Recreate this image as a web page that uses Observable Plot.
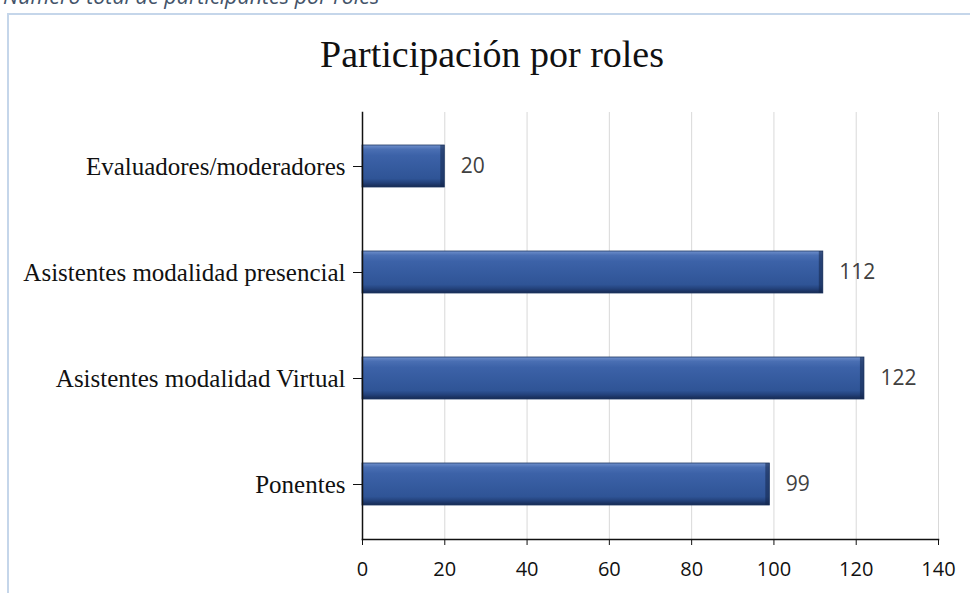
<!DOCTYPE html>
<html>
<head>
<meta charset="utf-8">
<script src="https://cdn.jsdelivr.net/npm/d3@7"></script>
<script src="https://cdn.jsdelivr.net/npm/@observablehq/plot@0.6"></script>
<style>
  html, body { margin: 0; padding: 0; background: #fff; }
  #wrap { position: relative; width: 970px; height: 593px; overflow: hidden; background: #fff; }
  #caption { position: absolute; left: 3px; top: -15px; font: italic 21.5px "Open Sans", sans-serif; line-height: 21.5px; color: #44546a; white-space: nowrap; }
  #box { position: absolute; left: 7px; top: 13px; width: 980px; height: 600px; border-left: 2px solid #c5d6ea; border-top: 2px solid #c5d6ea; box-sizing: border-box; }
  #title { position: absolute; left: 0; top: 0; width: 970px; height: 90px; }
  #title span { position: absolute; left: 320px; top: 35px; font: 38px "Liberation Serif", "Times New Roman", serif; color: #111; white-space: nowrap; line-height: 38px; }
  #chart { position: absolute; left: 0; top: 90px; }
</style>
</head>
<body>
<div id="wrap">
  <div id="caption">Número total de participantes por roles</div>
  <div id="box"></div>
  <div id="title"><span>Participación por roles</span></div>
  <div id="chart"></div>
</div>
<script>
const roles = ["Evaluadores/moderadores", "Asistentes modalidad presencial", "Asistentes modalidad Virtual", "Ponentes"];
const counts = [20, 112, 122, 99];
const xTicks = [0, 20, 40, 60, 80, 100, 120, 140];

const data = roles.map((r, i) => ({role: r, value: counts[i]}));

const chart = Plot.plot({
  width: 970,
  height: 503,
  marginLeft: 362,
  marginRight: 32,
  marginTop: 22,
  marginBottom: 54,
  style: {background: "transparent"},
  x: {domain: [0, 140], ticks: xTicks, label: null},
  y: {domain: roles, paddingInner: 0.6, paddingOuter: 0.3, label: null},
  marks: [
    Plot.gridX(xTicks.slice(1), {stroke: "#d9d9d9", strokeOpacity: 1}),
    Plot.barX(data, {y: "role", x: "value", fill: "url(#barGrad)", stroke: "#1f3864", strokeWidth: 0.8}),
    Plot.barX(data, {y: "role", x1: "value", x2: "value", insetLeft: -4, fill: "#14264a", fillOpacity: 0.55}),
    Plot.text(data, {y: "role", x: "value", text: d => String(d.value), dx: 16, textAnchor: "start", fill: "#404040", fontSize: 21, fontFamily: "Open Sans, sans-serif"}),
    Plot.axisX({ticks: xTicks, tickSize: 6, tickPadding: 16, fontSize: 20, fontFamily: "Open Sans, sans-serif", color: "#111", tickFormat: d => String(d), stroke: "#111"}),
    Plot.axisY({tickSize: 9, tickPadding: 8, fontSize: 25, fontFamily: "Liberation Serif, Times New Roman, serif", color: "#111", stroke: "#111"}),
    Plot.frame({anchor: "bottom", stroke: "#111", strokeWidth: 1.5}),
    Plot.frame({anchor: "left", stroke: "#111", strokeWidth: 1.5})
  ]
});

const svg = d3.select(chart);
const defs = svg.insert("defs", ":first-child");
const g = defs.append("linearGradient").attr("id", "barGrad").attr("x1", 0).attr("y1", 0).attr("x2", 0).attr("y2", 1);
[[0, "#7090cc"], [0.1, "#4a6fb3"], [0.25, "#3c62a8"], [0.8, "#2f5496"], [0.9, "#23417a"], [1, "#162a52"]]
  .forEach(([o, c]) => g.append("stop").attr("offset", o).attr("stop-color", c));
document.getElementById("chart").appendChild(chart);
</script>
</body>
</html>
